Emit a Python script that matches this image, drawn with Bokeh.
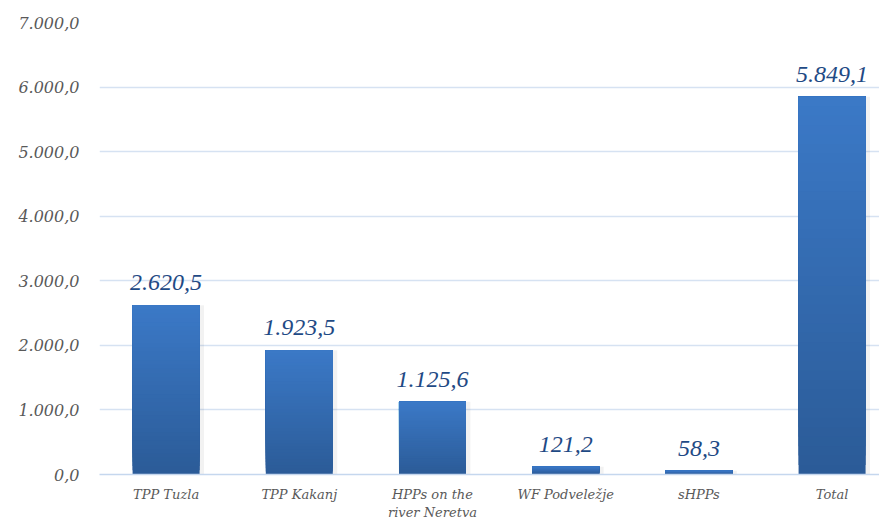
from bokeh.plotting import figure
from bokeh.models import Range1d, FixedTicker, ColumnDataSource, LabelSet
from bokeh.embed import file_html
from bokeh.resources import INLINE
import numpy as np

categories = ["TPP Tuzla", "TPP Kakanj", "HPPs on the\nriver Neretva", "WF Podveležje", "sHPPs", "Total"]
values = [2620.5, 1923.5, 1125.6, 121.2, 58.3, 5849.1]
value_labels = ["2.620,5", "1.923,5", "1.125,6", "121,2", "58,3", "5.849,1"]
y_ticks = [0, 1000, 2000, 3000, 4000, 5000, 6000, 7000]
y_tick_labels = ["0,0", "1.000,0", "2.000,0", "3.000,0", "4.000,0", "5.000,0", "6.000,0", "7.000,0"]

FONT = "DejaVu Serif"

p = figure(width=879, height=522, output_backend="svg", toolbar_location=None,
           x_range=Range1d(-0.5, 5.356), y_range=Range1d(0, 7000),
           min_border_left=99, min_border_right=0, min_border_top=22, min_border_bottom=46)
p.outline_line_color = None
p.background_fill_color = "white"
p.border_fill_color = "white"

# gradient bars: overlapping slices, each from its start up to the bar top
top_rgb = np.array([0x3b, 0x79, 0xc7])
bot_rgb = np.array([0x2b, 0x5b, 0x97])
N = 40
xs, bottoms, tops, colors = [], [], [], []
for k in range(N):
    t = (k + 0.5) / N
    c = bot_rgb + (top_rgb - bot_rgb) * t
    col = "#%02x%02x%02x" % tuple(int(round(x)) for x in c)
    for i, v in enumerate(values):
        xs.append(i)
        bottoms.append(v * k / N)
        tops.append(v)
        colors.append(col)

# soft shadow
p.vbar(x=[i + 0.02 for i in range(len(values))], top=values, bottom=0, width=0.53,
       fill_color="#000000", fill_alpha=0.05, line_color=None)
p.vbar(x=xs, bottom=bottoms, top=tops, width=0.503, fill_color=colors, line_color=None)

src = ColumnDataSource(dict(x=list(range(len(values))), y=values, t=value_labels))
labels = LabelSet(x="x", y="y", text="t", source=src, text_align="center", text_baseline="bottom",
                  y_offset=15, text_font=FONT, text_font_style="italic", text_font_size="24px",
                  text_color="#1f4a85")
p.add_layout(labels)

p.yaxis.ticker = FixedTicker(ticks=y_ticks)
p.yaxis.major_label_overrides = {t: l for t, l in zip(y_ticks, y_tick_labels)}
p.yaxis.axis_line_color = None
p.yaxis.major_tick_line_color = None
p.yaxis.minor_tick_line_color = None
p.yaxis.major_label_text_font = FONT
p.yaxis.major_label_text_font_style = "italic"
p.yaxis.major_label_text_font_size = "16px"
p.yaxis.major_label_text_color = "#595959"
p.yaxis.major_label_standoff = 14

p.xaxis.ticker = FixedTicker(ticks=list(range(len(categories))))
p.xaxis.major_label_overrides = {i: c for i, c in enumerate(categories)}
p.xaxis.axis_line_color = "#c5d7ee"
p.xaxis.axis_line_width = 1.5
p.xaxis.major_tick_line_color = None
p.xaxis.minor_tick_line_color = None
p.xaxis.major_label_text_font = FONT
p.xaxis.major_label_text_font_style = "italic"
p.xaxis.major_label_text_font_size = "13px"
p.xaxis.major_label_text_color = "#595959"
p.xaxis.major_label_standoff = 6

p.xgrid.grid_line_color = None
p.ygrid.grid_line_color = "#d6e2f2"
p.ygrid.grid_line_width = 1.5

open("out.html", "w").write(file_html(p, INLINE))
